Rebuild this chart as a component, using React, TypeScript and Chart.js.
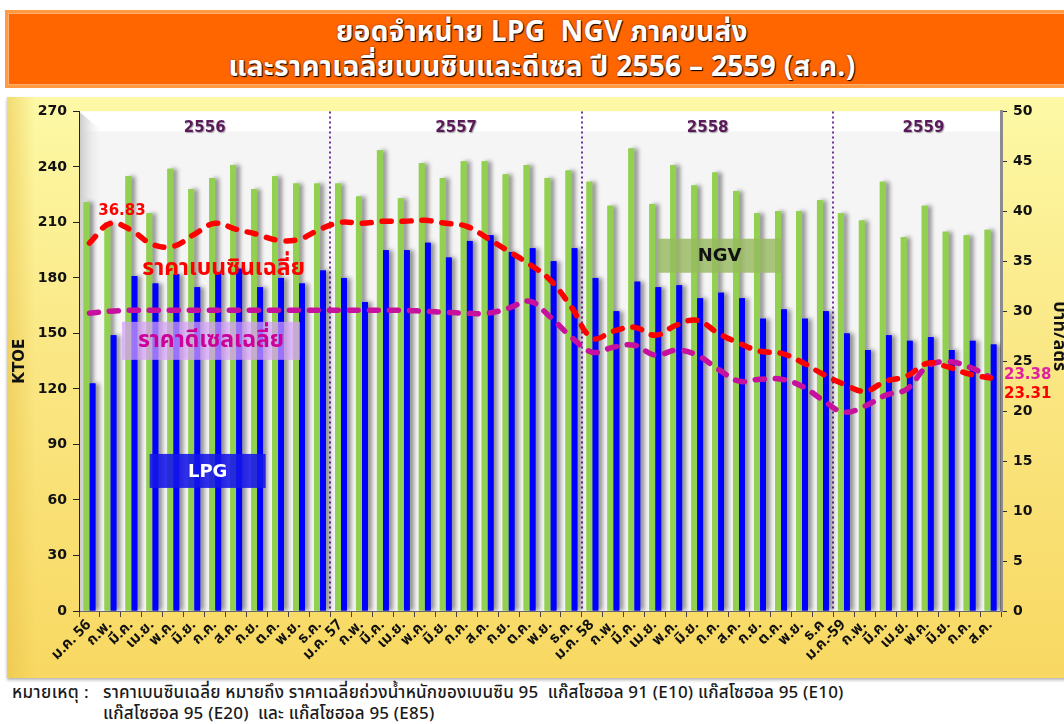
import React, { useEffect, useRef } from "react";
import { Chart, registerables } from "chart.js";

Chart.register(...registerables);

const THAI = "Tahoma, 'Noto Sans Thai', 'Noto Sans Thai UI', 'Loma', 'Garuda', 'DejaVu Sans', 'Noto Sans', sans-serif";
const NUM = "'DejaVu Sans', Verdana, sans-serif";

const months = [
  "ม.ค. 56", "ก.พ.", "มี.ค.", "เม.ย.", "พ.ค.", "มิ.ย.", "ก.ค.", "ส.ค.", "ก.ย.", "ต.ค.", "พ.ย.", "ธ.ค.",
  "ม.ค. 57", "ก.พ.", "มี.ค.", "เม.ย.", "พ.ค.", "มิ.ย.", "ก.ค.", "ส.ค.", "ก.ย.", "ต.ค.", "พ.ย.", "ธ.ค.",
  "ม.ค. 58", "ก.พ.", "มี.ค.", "เม.ย.", "พ.ค.", "มิ.ย.", "ก.ค.", "ส.ค.", "ก.ย.", "ต.ค.", "พ.ย.", "ธ.ค",
  "ม.ค.-59", "ก.พ.", "มี.ค.", "เม.ย.", "พ.ค.", "มิ.ย.", "ก.ค.", "ส.ค.",
];

const lpg = [
  123, 149, 181, 177, 182, 175, 183, 185, 175, 180, 177, 184,
  180, 167, 195, 195, 199, 191, 200, 203, 194, 196, 189, 196,
  180, 162, 178, 175, 176, 169, 172, 169, 158, 163, 158, 162,
  150, 141, 149, 146, 148, 141, 146, 144,
];

const ngv = [
  221, 210, 235, 215, 239, 228, 234, 241, 228, 235, 231, 231,
  231, 224, 249, 223, 242, 234, 243, 243, 236, 241, 234, 238,
  232, 219, 250, 220, 241, 230, 237, 227, 215, 216, 216, 222,
  215, 211, 232, 202, 219, 205, 203, 206,
];

const benzine = [
  36.83, 38.8, 38.1, 36.7, 36.5, 37.7, 38.8, 38.2, 37.7, 37.1, 37.2, 38.2,
  38.9, 38.8, 39.0, 39.0, 39.1, 38.8, 38.5, 37.3, 36.0, 34.7, 33.1, 30.4,
  27.3, 28.0, 28.4, 27.6, 28.6, 29.1, 27.8, 26.8, 26.0, 25.8, 24.9, 23.7,
  22.7, 22.0, 23.0, 23.5, 24.8, 24.4, 23.7, 23.31,
];

const diesel = [
  29.8, 30.0, 30.1, 30.1, 30.1, 30.1, 30.1, 30.1, 30.1, 30.1, 30.1, 30.1,
  30.1, 30.1, 30.1, 30.1, 30.0, 29.9, 29.8, 29.8, 30.3, 31.0, 29.4, 27.4,
  25.9, 26.4, 26.6, 25.6, 26.1, 25.6, 24.2, 23.0, 23.2, 23.2, 22.5, 21.1,
  19.9, 20.5, 21.6, 22.2, 24.5, 24.95, 24.4, 23.38,
];

const years = ["2556", "2557", "2558", "2559"];
const yearCenters = [5.5, 17.5, 29.5, 39.8];
const yearBounds = [11.5, 23.5, 35.5];

const labelBenzine = "ราคาเบนซินเฉลี่ย";
const labelDiesel = "ราคาดีเซลเฉลี่ย";
const firstBenzineLabel = "36.83";
const lastDieselLabel = "23.38";
const lastBenzineLabel = "23.31";
const rightTitle = "บาท/ลิตร";

function xAt(chart: any, v: number) {
  const x = chart.scales.x;
  const a = x.getPixelForValue(Math.floor(v));
  const b = x.getPixelForValue(Math.floor(v) + 1);
  return a + (b - a) * (v - Math.floor(v));
}

function drawBox(ctx: CanvasRenderingContext2D, cx: number, cy: number, w: number, h: number, fill: string, text: string, font: string, color: string) {
  ctx.save();
  ctx.fillStyle = fill;
  ctx.fillRect(cx - w / 2, cy - h / 2, w, h);
  ctx.font = font;
  ctx.fillStyle = color;
  ctx.textAlign = "center";
  ctx.textBaseline = "middle";
  ctx.fillText(text, cx, cy + 1);
  ctx.restore();
}

const decor = {
  id: "decor",
  beforeDraw(chart: any) {
    const { ctx, chartArea: a } = chart;
    const w = a.right - a.left;
    const h = a.bottom - a.top;
    ctx.save();
    ctx.fillStyle = "#F5F5F5";
    ctx.fillRect(a.left, a.top, w, h);
    ctx.fillStyle = "#FFFFFF";
    ctx.fillRect(a.left, a.top, w, 20);
    const lg = ctx.createLinearGradient(a.left, 0, a.left + 24, 0);
    lg.addColorStop(0, "#C8C8C8");
    lg.addColorStop(1, "rgba(245,245,245,0)");
    ctx.fillStyle = lg;
    ctx.beginPath();
    ctx.moveTo(a.left, a.top);
    ctx.lineTo(a.left + 24, a.top + 20);
    ctx.lineTo(a.left + 24, a.bottom);
    ctx.lineTo(a.left, a.bottom);
    ctx.closePath();
    ctx.fill();
    ctx.restore();
  },
  beforeDatasetsDraw(chart: any) {
    const { ctx, chartArea: a } = chart;
    ctx.save();
    ctx.strokeStyle = "#7030A0";
    ctx.lineWidth = 2;
    ctx.setLineDash([2, 3]);
    yearBounds.forEach((b) => {
      const x = Math.round(xAt(chart, b));
      ctx.beginPath();
      ctx.moveTo(x, a.top);
      ctx.lineTo(x, a.bottom);
      ctx.stroke();
    });
    ctx.setLineDash([]);
    ctx.font = `bold 15px ${NUM}`;
    ctx.textAlign = "center";
    ctx.textBaseline = "middle";
    ctx.fillStyle = "#5A1A5A";
    ctx.shadowColor = "rgba(0,0,0,0.35)";
    ctx.shadowOffsetX = 1;
    ctx.shadowOffsetY = 1;
    ctx.shadowBlur = 1;
    years.forEach((y, i) => {
      ctx.fillText(y, xAt(chart, yearCenters[i]), a.top + 17);
    });
    ctx.restore();
    // shadow pre-pass for bars (bars are redrawn on top without shadow)
    ctx.save();
    ctx.beginPath();
    ctx.rect(a.left, a.top, a.right - a.left, a.bottom - a.top);
    ctx.clip();
    ctx.shadowColor = "rgba(0,0,0,0.42)";
    ctx.shadowOffsetX = 4;
    ctx.shadowOffsetY = 0;
    ctx.shadowBlur = 4;
    chart.data.datasets.forEach((ds: any, i: number) => {
      if (ds.type !== "bar") return;
      const meta = chart.getDatasetMeta(i);
      ctx.fillStyle = ds.backgroundColor;
      meta.data.forEach((el: any) => {
        const p = el.getProps(["x", "y", "base", "width"], true);
        ctx.fillRect(p.x - p.width / 2, p.y, p.width, p.base - p.y);
      });
    });
    ctx.restore();
  },
  afterDatasetsDraw(chart: any) {
    const { ctx, chartArea: a } = chart;
    const y = chart.scales.y;
    const y1 = chart.scales.y1;
    ctx.save();
    ctx.font = `bold 23px ${THAI}`;
    ctx.fillStyle = "#FF0000";
    ctx.textAlign = "center";
    ctx.textBaseline = "middle";
    ctx.fillText(labelBenzine, xAt(chart, 6.4), y.getPixelForValue(184));
    ctx.restore();
    drawBox(ctx, xAt(chart, 5.8), y.getPixelForValue(146), 178, 38, "rgba(214,160,250,0.72)", labelDiesel, `bold 23px ${THAI}`, "#CC0099");
    drawBox(ctx, xAt(chart, 5.64), y.getPixelForValue(75.7), 116, 34, "rgba(20,20,235,0.88)", "LPG", `bold 18px ${NUM}`, "#FFFFFF");
    drawBox(ctx, xAt(chart, 30.07), y.getPixelForValue(192), 124, 34, "rgba(150,185,95,0.82)", "NGV", `bold 18px ${NUM}`, "#111111");
    ctx.save();
    ctx.font = `bold 15px ${NUM}`;
    ctx.textAlign = "left";
    ctx.textBaseline = "middle";
    ctx.fillStyle = "#FF0000";
    ctx.textAlign = "center";
    ctx.fillText(firstBenzineLabel, xAt(chart, 1.55), y1.getPixelForValue(40.06));
    ctx.textAlign = "left";
    ctx.fillStyle = "#E0209F";
    ctx.fillText(lastDieselLabel, a.right + 3, y1.getPixelForValue(23.56));
    ctx.fillStyle = "#FF0000";
    ctx.fillText(lastBenzineLabel, a.right + 3, y1.getPixelForValue(21.67));
    ctx.restore();
    // right axis title
    ctx.save();
    ctx.translate(a.right + 57, y1.getPixelForValue(27.5));
    ctx.rotate(Math.PI / 2);
    ctx.font = `bold 18px ${THAI}`;
    ctx.fillStyle = "#111";
    ctx.textAlign = "center";
    ctx.textBaseline = "middle";
    ctx.fillText(rightTitle, 0, 0);
    ctx.restore();
  },
};

function ChartPanel() {
  const ref = useRef<HTMLCanvasElement | null>(null);
  useEffect(() => {
    if (!ref.current) return;
    const tickFont = { family: NUM, size: 14, weight: "bold" as const };
    const chart = new Chart(ref.current, {
      type: "bar",
      data: {
        labels: months,
        datasets: [
          {
            type: "line",
            label: "ราคาเบนซินเฉลี่ย",
            data: benzine,
            yAxisID: "y1",
            borderColor: "#FF0000",
            borderWidth: 5.5,
            borderDash: [9, 11],
            borderCapStyle: "round",
            pointRadius: 0,
            tension: 0.4,
            fill: false,
            order: 0,
          } as any,
          {
            type: "line",
            label: "ราคาดีเซลเฉลี่ย",
            data: diesel,
            yAxisID: "y1",
            borderColor: "#C8109E",
            borderWidth: 5.5,
            borderDash: [9, 11],
            borderCapStyle: "round",
            pointRadius: 0,
            tension: 0.4,
            fill: false,
            order: 1,
          } as any,
          {
            type: "bar",
            label: "NGV",
            data: ngv,
            yAxisID: "y",
            backgroundColor: "#92D050",
            categoryPercentage: 0.58,
            barPercentage: 0.95,
            order: 2,
          } as any,
          {
            type: "bar",
            label: "LPG",
            data: lpg,
            yAxisID: "y",
            backgroundColor: "#0000FF",
            categoryPercentage: 0.58,
            barPercentage: 0.95,
            order: 3,
          } as any,
        ],
      },
      options: {
        animation: false,
        responsive: false,
        maintainAspectRatio: false,
        layout: { padding: { top: 11, left: 0, right: 0, bottom: 0 } },
        plugins: { legend: { display: false }, tooltip: { enabled: false }, title: { display: false } },
        scales: {
          x: {
            offset: true,
            grid: { drawOnChartArea: false, offset: true, color: "#444", tickLength: 6 },
            border: { color: "#666", width: 1 },
            ticks: {
              autoSkip: false,
              maxRotation: 45,
              minRotation: 45,
              padding: 0,
              color: "#111",
              font: { family: THAI, size: 15, weight: "bold" },
            },
            afterFit: (s: any) => { s.height = 67; },
          },
          y: {
            position: "left",
            min: 0,
            max: 270,
            ticks: { stepSize: 30, color: "#111", font: tickFont, padding: 6 },
            grid: { drawOnChartArea: false, color: "#222", tickLength: 6 },
            border: { color: "#222", width: 1 },
            title: { display: true, text: "KTOE", color: "#111", font: { family: NUM, size: 15, weight: "bold" }, padding: { top: 4, bottom: 0 } },
            afterFit: (s: any) => { s.width = 72; },
          },
          y1: {
            position: "right",
            min: 0,
            max: 50,
            ticks: { stepSize: 5, color: "#111", font: tickFont, padding: 6 },
            grid: { drawOnChartArea: false, color: "#333", tickLength: 6 },
            border: { color: "#8C8C8C", width: 3 },
            title: { display: false },
            afterFit: (s: any) => { s.width = 63; },
          },
        },
      },
      plugins: [decor],
    });
    return () => chart.destroy();
  }, []);
  return <canvas ref={ref} width={1057} height={581} style={{ position: "absolute", left: 0, top: 0, width: 1057, height: 581 }} />;
}

export default function App() {
  return (
    <div style={{ position: "absolute", left: 0, top: 0, width: 1064, height: 724, overflow: "hidden", background: "#FFFFFF", fontFamily: THAI }}>
      <div
        style={{
          position: "absolute",
          left: 5,
          top: 10,
          width: 1074,
          height: 78,
          boxSizing: "border-box",
          background: "#FF6600",
          border: "3px solid #FF9A40",
          boxShadow: "inset 0 0 0 1px #FFB070",
          color: "#FFFFFF",
          fontWeight: "bold",
          fontSize: 28,
          textAlign: "center",
          lineHeight: "35px",
          paddingTop: 2,
          letterSpacing: 0.3,
          textShadow: "1px 1px 1px #000, 0 0 2px rgba(0,0,0,0.5)",
          whiteSpace: "pre",
        }}
      >
        <div>{"ยอดจำหน่าย LPG  NGV ภาคขนส่ง"}</div>
        <div>{"และราคาเฉลี่ยเบนซินและดีเซล ปี 2556 – 2559 (ส.ค.)"}</div>
      </div>
      <div
        style={{
          position: "absolute",
          left: 7,
          top: 97,
          width: 1060,
          height: 581,
          background: "linear-gradient(to right, rgba(232,192,70,0.55) 0px, rgba(232,192,70,0) 28px), linear-gradient(to bottom, #FDF9A6 0%, #FAE784 45%, #F8D862 100%)",
          boxShadow: "0 2px 3px rgba(0,0,0,0.3)",
        }}
      >
        <ChartPanel />
      </div>
      <div style={{ position: "absolute", left: 12, top: 683, fontSize: 17, fontWeight: 500, color: "#1A1A1A", whiteSpace: "pre", lineHeight: "21px", letterSpacing: 0.4 }}>
        {"หมายเหตุ :"}
      </div>
      <div style={{ position: "absolute", left: 103, top: 683, fontSize: 17, fontWeight: 500, color: "#1A1A1A", whiteSpace: "pre", lineHeight: "21px", letterSpacing: 0.2 }}>
        <div>{"ราคาเบนซินเฉลี่ย หมายถึง ราคาเฉลี่ยถ่วงน้ำหนักของเบนซิน 95  แก๊สโซฮอล 91 (E10) แก๊สโซฮอล 95 (E10)"}</div>
        <div>{"แก๊สโซฮอล 95 (E20)  และ แก๊สโซฮอล 95 (E85)"}</div>
      </div>
    </div>
  );
}
